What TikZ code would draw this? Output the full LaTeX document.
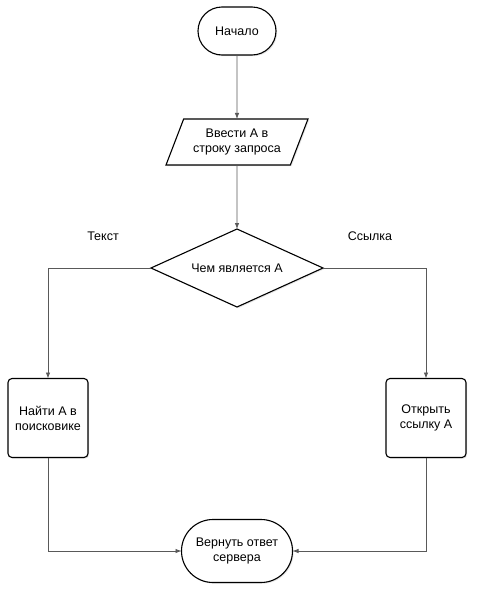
\documentclass[tikz,border=0pt]{standalone}
\usepackage{fontspec}
\setmainfont{Liberation Sans}
\usetikzlibrary{shapes.geometric,shapes.misc,arrows.meta,shadows}

\begin{document}
\begin{tikzpicture}[x=1pt,y=1pt,
  base/.style={draw=black, line width=1.1pt, fill=white, align=center,
    font=\fontsize{12.5}{15}\selectfont, inner sep=0pt, outer sep=0pt,
    drop shadow={opacity=0.2, shadow xshift=1.2pt, shadow yshift=-1.2pt}},
  terminal/.style={base, rounded rectangle},
  inputbox/.style={base, trapezium, trapezium left angle=61, trapezium right angle=119,
    trapezium stretches=true, minimum width=142pt, minimum height=46pt},
  decision/.style={base, diamond, aspect=2.2, minimum width=172pt, minimum height=78pt},
  actionbox/.style={base, rectangle, rounded corners=4pt, minimum width=80pt, minimum height=79pt},
  conn/.style={draw=black!65, line width=0.8pt, -{Latex[length=6pt,width=4.5pt]}},
  branch/.style={font=\fontsize{12.5}{14}\selectfont}
]
\useasboundingbox (0,0) rectangle (482,-600);

\node[terminal, minimum width=78pt, minimum height=48pt] (start) at (237,-31) {Начало};
\node[inputbox] (input) at (237,-142) {Ввести А в\\строку запроса};
\node[decision] (choice) at (237,-268) {Чем является А};
\node[actionbox] (find) at (48,-418) {Найти А в\\поисковике};
\node[actionbox] (open) at (426,-418) {Открыть\\ссылку А};
\node[terminal, minimum width=111pt, minimum height=63pt] (finish) at (237,-551) {Вернуть ответ\\сервера};

\node[branch] (textlabel) at (103,-236) {Текст};
\node[branch] (linklabel) at (370,-236) {Ссылка};

\draw[conn] (start) -- (input);
\draw[conn] (input) -- (choice);
\draw[conn] (choice.west) -| (find.north);
\draw[conn] (choice.east) -| (open.north);
\draw[conn] (find.south) |- (finish.west);
\draw[conn] (open.south) |- (finish.east);

\end{tikzpicture}
\end{document}
